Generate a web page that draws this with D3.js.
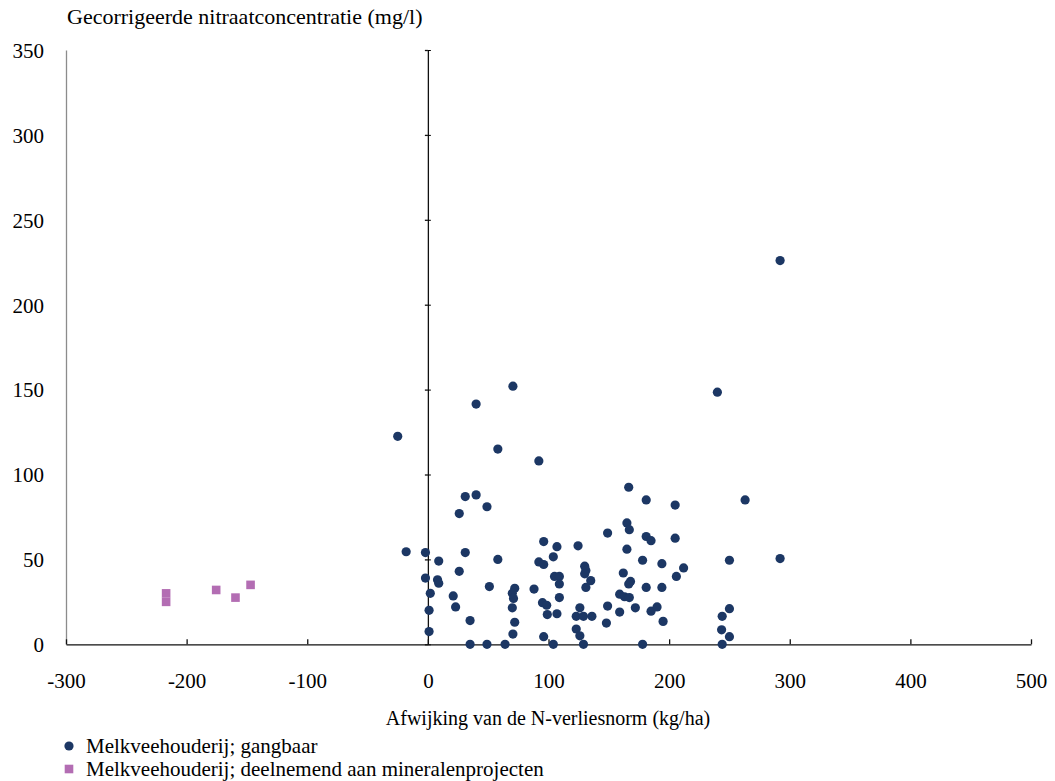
<!DOCTYPE html>
<html>
<head>
    <meta charset="utf-8">
    <style>
        body {
            margin: 0;
            background: white;
        }
        svg, svg text {
            font-family: 'Liberation Serif', 'Times New Roman', serif;
        }
        .tick text {
            font-size: 21px;
            fill: #000;
        }
    </style>
</head>
<body>
    <svg width="1055" height="781"></svg>

<script src="https://d3js.org/d3.v7.min.js"></script>
<script>
    // Melkveehouderij; gangbaar
    let gangbaarX = [-25, -18, -2, 9, -2, 8, 9, 2, 1, 1, 26, 31, 40, 40, 70.5, 58, 49, 92, 31, 58,
        26, 21, 23, 35, 35, 49, 64, 51, 72, 70, 71, 70, 72, 70.5, 96, 104, 96, 107, 124.5, 92,
        96, 104, 105, 109, 109, 88, 109, 95, 98.5, 99, 107, 130, 131, 130, 135, 131, 126, 123, 129, 136,
        123, 126, 129, 149, 148, 149, 166.5, 165, 167, 181, 205, 181, 185, 205, 165, 178, 194, 212, 206, 162,
        168, 166.5, 181, 194, 159, 163, 167, 172, 159, 185, 190, 195, 178, 240, 263, 250, 292, 250, 244, 243.5,
        250, 244, 292]
    let gangbaarY = [122.5, 54.5, 54, 49, 39, 38, 36, 30, 20, 7.5, 77, 87, 88, 141.5, 152, 115, 81, 108, 54, 50,
        43, 28.5, 22, 14, 0, 0, 0, 34, 33, 30, 27, 21.5, 13, 6, 4.5, 0, 60.5, 57.5, 58, 48.5,
        47, 51.5, 40, 40, 35.5, 32.5, 27.5, 24.5, 23, 17.5, 18, 46, 43.5, 41.5, 37.5, 33.5, 21.5, 16.5, 16.5, 16.5,
        9, 5, 0, 22.5, 12.5, 65.5, 92.5, 71.5, 67.5, 85, 82, 63.5, 61, 62.5, 56, 49.5, 47.5, 45, 40, 42,
        37, 35.5, 33.5, 33.5, 29.5, 28, 27.5, 21.5, 19, 19.5, 22, 13.5, 0, 148.5, 85, 49.5, 50.5, 21, 16.5, 8.5,
        4.5, 0, 226]

    // Melkveehouderij; deelnemend aan mineralenprojecten
    let deelnemendX = [-217, -217, -175.5, -159.5, -147]
    let deelnemendY = [30, 25, 32, 27.5, 35]

    let xTicks = [-300, -200, -100, 0, 100, 200, 300, 400, 500]
    let yTicks = [0, 50, 100, 150, 200, 250, 300, 350]

    let legendLabels = ["Melkveehouderij; gangbaar", "Melkveehouderij; deelnemend aan mineralenprojecten"]
    let navy = "#1c3764"
    let pink = "#b36db3"
    let serif = "'Liberation Serif', 'Times New Roman', serif"

    let svg = d3.select("svg")

    let x = d3.scaleLinear().domain([-300, 500]).range([66, 1031])
    let y = d3.scaleLinear().domain([0, 350]).range([644.3, 50])

    // left gray line with the value labels
    let yLabels = svg.append("g")
        .attr("transform", "translate(66,0)")
        .call(d3.axisLeft(y).tickValues(yTicks).tickSize(0).tickSizeOuter(0).tickPadding(22).tickFormat(d => String(d)))
        .attr("font-family", serif)
    yLabels.select(".domain").attr("stroke", "#8c8c8c").attr("stroke-width", 1.3)
    yLabels.selectAll(".tick text").attr("dy", "0.35em")

    // vertical axis at x = 0, ticks crossing the line
    let yZero = svg.append("g")
        .attr("transform", "translate(" + x(0) + ",0)")
        .call(d3.axisLeft(y).tickValues(yTicks).tickSize(3).tickSizeOuter(0).tickFormat(""))
    svg.append("g")
        .attr("transform", "translate(" + x(0) + ",0)")
        .call(d3.axisRight(y).tickValues(yTicks).tickSize(3).tickSizeOuter(0).tickFormat(""))
        .select(".domain").remove()
    yZero.selectAll("line, path").attr("stroke", "#111").attr("stroke-width", 1.3)

    // x axis, ticks pointing up
    let xAxis = svg.append("g")
        .attr("transform", "translate(0," + y(0) + ")")
        .call(d3.axisBottom(x).tickValues(xTicks).tickSize(-5).tickSizeOuter(0).tickPadding(44).tickFormat(d => String(d)))
        .attr("font-family", serif)
    xAxis.selectAll("line, path").attr("stroke", "#111").attr("stroke-width", 1.3)
    xAxis.selectAll(".tick text").attr("dy", "0")

    // axis titles
    svg.append("text")
        .attr("x", 67)
        .attr("y", 24)
        .style("font-size", "22px")
        .text("Gecorrigeerde nitraatconcentratie (mg/l)")

    svg.append("text")
        .attr("x", 548)
        .attr("y", 725)
        .attr("text-anchor", "middle")
        .style("font-size", "20px")
        .text("Afwijking van de N-verliesnorm (kg/ha)")

    // points
    svg.append("g")
        .selectAll("circle")
        .data(d3.range(gangbaarX.length))
        .join("circle")
        .attr("cx", i => x(gangbaarX[i]))
        .attr("cy", i => y(gangbaarY[i]))
        .attr("r", 4.6)
        .attr("fill", navy)

    svg.append("g")
        .selectAll("rect")
        .data(d3.range(deelnemendX.length))
        .join("rect")
        .attr("x", i => x(deelnemendX[i]) - 4.3)
        .attr("y", i => y(deelnemendY[i]) - 4.3)
        .attr("width", 8.6)
        .attr("height", 8.6)
        .attr("fill", pink)

    // legend
    let legend = svg.append("g")
    legend.append("circle").attr("cx", 69).attr("cy", 746).attr("r", 4.6).attr("fill", navy)
    legend.append("rect").attr("x", 64.7).attr("y", 764.7).attr("width", 8.6).attr("height", 8.6).attr("fill", pink)
    legend.selectAll("text")
        .data(legendLabels)
        .join("text")
        .attr("x", 86)
        .attr("y", (d, i) => 753 + i * 23)
        .style("font-size", "21px")
        .text(d => d)
</script>
</body>
</html>
